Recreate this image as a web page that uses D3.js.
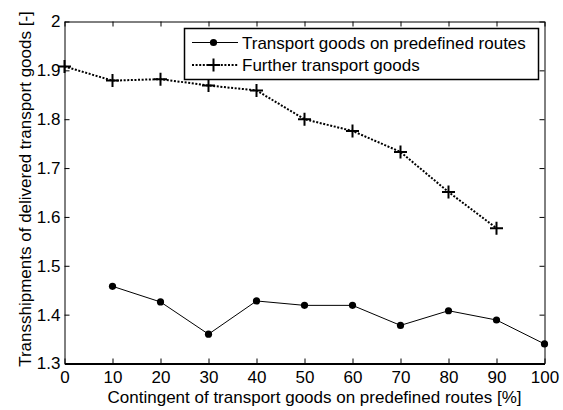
<!DOCTYPE html>
<html>
<head>
<meta charset="utf-8">
<script src="https://cdn.jsdelivr.net/npm/d3@7/dist/d3.min.js"></script>
<style>
  html, body { margin: 0; padding: 0; background: #fff; }
  svg { display: block; }
  text { font-family: "Liberation Sans", Arial, sans-serif; fill: #000; }
</style>
</head>
<body>
<svg id="chart" width="563" height="410"></svg>
<script>
// Share of transport goods on predefined routes [%]
const routeShares = [10, 20, 30, 40, 50, 60, 70, 80, 90, 100];
const routeTransshipments = [1.458, 1.426, 1.360, 1.428, 1.419, 1.419, 1.378, 1.408, 1.389, 1.340];

const furtherShares = [0, 10, 20, 30, 40, 50, 60, 70, 80, 90];
const furtherTransshipments = [1.908, 1.879, 1.882, 1.869, 1.859, 1.800, 1.776, 1.733, 1.651, 1.577];

const xTicks = [0, 10, 20, 30, 40, 50, 60, 70, 80, 90, 100];
const yTicks = [1.3, 1.4, 1.5, 1.6, 1.7, 1.8, 1.9, 2];

const seriesNames = ["Transport goods on predefined routes", "Further transport goods"];
const xTitle = "Contingent of transport goods on predefined routes [%]";
const yTitle = "Transshipments of delivered transport goods [-]";

const svg = d3.select("#chart");
const plotLeft = 64.5, plotRight = 544.5, plotTop = 21.5, plotBottom = 363.5;
const fontSize = 17;

const x = d3.scaleLinear().domain([0, 100]).range([plotLeft, plotRight]);
const y = d3.scaleLinear().domain([1.3, 2]).range([plotBottom, plotTop]);

// Axes with inward ticks on all four sides
const fmt = d3.format("~g");
const axB = svg.append("g").attr("transform", `translate(0,${plotBottom})`)
  .call(d3.axisBottom(x).tickValues(xTicks).tickSizeInner(-5).tickSizeOuter(0).tickPadding(7).tickFormat(fmt));
const axL = svg.append("g").attr("transform", `translate(${plotLeft},0)`)
  .call(d3.axisLeft(y).tickValues(yTicks).tickSizeInner(-5).tickSizeOuter(0).tickPadding(4).tickFormat(fmt));
const axT = svg.append("g").attr("transform", `translate(0,${plotTop})`)
  .call(d3.axisTop(x).tickValues(xTicks).tickSizeInner(-5).tickSizeOuter(0).tickFormat(""));
const axR = svg.append("g").attr("transform", `translate(${plotRight},0)`)
  .call(d3.axisRight(y).tickValues(yTicks).tickSizeInner(-5).tickSizeOuter(0).tickFormat(""));

[axB, axL, axT, axR].forEach(a => {
  a.selectAll("text").style("font-size", fontSize + "px").attr("fill", "#000");
  a.selectAll("line").attr("stroke", "#000");
  a.select(".domain").attr("stroke", "#000");
});
axB.select(".domain").attr("stroke-width", 2);

// Series lines
const routeData = routeShares.map((s, i) => [s, routeTransshipments[i]]);
const furtherData = furtherShares.map((s, i) => [s, furtherTransshipments[i]]);
const line = d3.line().x(d => x(d[0])).y(d => y(d[1]));

svg.append("path").datum(routeData).attr("d", line)
  .attr("fill", "none").attr("stroke", "#000").attr("stroke-width", 1);
svg.append("path").datum(furtherData).attr("d", line)
  .attr("fill", "none").attr("stroke", "#000").attr("stroke-width", 2)
  .attr("stroke-dasharray", "2,1.6");

// Markers
svg.append("g").selectAll("circle").data(routeData).join("circle")
  .attr("cx", d => x(d[0])).attr("cy", d => y(d[1])).attr("r", 3.6).attr("fill", "#000");

const plus = (g, cx, cy, h) => {
  g.append("path")
    .attr("d", `M${cx - h},${cy}H${cx + h}M${cx},${cy - h}V${cy + h}`)
    .attr("stroke", "#000").attr("stroke-width", 2).attr("fill", "none");
};
const plusG = svg.append("g");
furtherData.forEach(d => plus(plusG, x(d[0]), y(d[1]), 6.5));

// Axis titles
svg.append("text")
  .attr("x", (plotLeft + plotRight) / 2 + 10).attr("y", 403)
  .attr("text-anchor", "middle").style("font-size", fontSize + "px")
  .text(xTitle);
svg.append("text")
  .attr("transform", `translate(31,189) rotate(-90)`)
  .attr("text-anchor", "middle").style("font-size", fontSize + "px")
  .text(yTitle);

// Legend
const lg = svg.append("g");
lg.append("rect").attr("x", 184.5).attr("y", 28.5).attr("width", 354).attr("height", 51)
  .attr("fill", "#fff").attr("stroke", "#000").attr("stroke-width", 1.5);
const rows = [42.5, 65];
lg.append("line").attr("x1", 192).attr("x2", 238).attr("y1", rows[0]).attr("y2", rows[0])
  .attr("stroke", "#000").attr("stroke-width", 1);
lg.append("circle").attr("cx", 213.5).attr("cy", rows[0]).attr("r", 3.6).attr("fill", "#000");
lg.append("line").attr("x1", 192).attr("x2", 238).attr("y1", rows[1]).attr("y2", rows[1])
  .attr("stroke", "#000").attr("stroke-width", 2).attr("stroke-dasharray", "2,1.6");
plus(lg, 213.5, rows[1], 6.5);
seriesNames.forEach((name, i) => {
  lg.append("text").attr("x", 242).attr("y", rows[i]).attr("dy", "0.36em")
    .style("font-size", fontSize + "px").text(name);
});
</script>
</body>
</html>
